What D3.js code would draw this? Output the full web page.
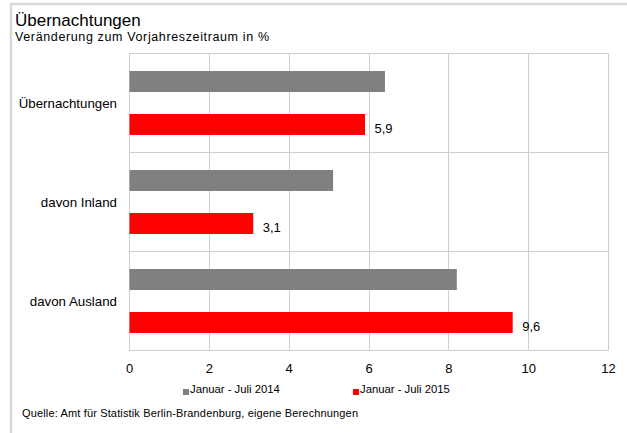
<!DOCTYPE html>
<html>
<head>
<meta charset="utf-8">
<script src="https://cdn.jsdelivr.net/npm/d3@7/dist/d3.min.js"></script>
<style>
  html, body { margin: 0; padding: 0; background: #fff; }
  svg { display: block; font-family: "Liberation Sans", Arial, sans-serif; }
</style>
</head>
<body>
<svg id="chart" width="627" height="433"></svg>
<script>
// Categories and series (change vs. previous year, in %)
const categories = ["Übernachtungen", "davon Inland", "davon Ausland"];
const seriesNames = ["Januar - Juli 2014", "Januar - Juli 2015"];
const values2014 = [6.4, 5.1, 8.2];
const values2015 = [5.9, 3.1, 9.6];
const xTicks = [0, 2, 4, 6, 8, 10, 12];
const seriesColors = ["#808080", "#ff0000"];

const svg = d3.select("#chart");
const W = 627, H = 433;

// outer frame
svg.append("rect")
  .attr("x", 11).attr("y", 4)
  .attr("width", W + 10).attr("height", H + 10)
  .attr("fill", "#fff")
  .attr("stroke", "#d9d9d9").attr("stroke-width", 2.5);

// titles
svg.append("text").attr("x", 15).attr("y", 26)
  .attr("font-size", 17).attr("fill", "#000").text("Übernachtungen");
svg.append("text").attr("x", 15).attr("y", 40.5)
  .attr("font-size", 12.5).attr("fill", "#000")
  .attr("textLength", 254).attr("lengthAdjust", "spacing")
  .text("Veränderung zum Vorjahreszeitraum  in %");

const plot = { left: 129, right: 608, top: 53, bottom: 350 };

const x = d3.scaleLinear().domain([0, 12]).range([plot.left, plot.right]);
const y = d3.scaleBand().domain(categories).range([plot.top, plot.bottom]);
const bw = y.bandwidth();
const ySub = d3.scaleBand().domain([0, 1])
  .range([bw * 0.182, bw * 0.828]).paddingInner(0.512).paddingOuter(0);

const g = svg.append("g");

// vertical gridlines
g.append("g").selectAll("line").data(xTicks).join("line")
  .attr("x1", d => Math.round(x(d)) + 0.5).attr("x2", d => Math.round(x(d)) + 0.5)
  .attr("y1", plot.top).attr("y2", plot.bottom)
  .attr("stroke", "#cfcfcf").attr("stroke-width", 1);

// horizontal category separators and frame
const sepYs = [plot.top].concat(categories.map(c => y(c) + y.bandwidth()));
g.append("g").selectAll("line").data(sepYs).join("line")
  .attr("x1", plot.left).attr("x2", plot.right + 0.5)
  .attr("y1", d => Math.round(d) + 0.5).attr("y2", d => Math.round(d) + 0.5)
  .attr("stroke", "#cfcfcf").attr("stroke-width", 1);

// bars
const rows = categories.map((c, i) => ({ c, v: [values2014[i], values2015[i]] }));
const grp = g.append("g").selectAll("g").data(rows).join("g")
  .attr("transform", d => `translate(0,${y(d.c)})`);

grp.selectAll("rect").data(d => d.v.map((v, k) => ({ v, k }))).join("rect")
  .attr("x", x(0) + 0.5)
  .attr("y", d => ySub(d.k))
  .attr("width", d => x(d.v) - x(0))
  .attr("height", ySub.bandwidth())
  .attr("fill", d => seriesColors[d.k]);

// value labels on 2015 bars
grp.append("text")
  .attr("x", d => x(d.v[1]) + 10)
  .attr("y", ySub(1) + ySub.bandwidth() / 2 + 3.7)
  .attr("dy", "0.35em")
  .attr("font-size", 13).attr("fill", "#000")
  .text(d => d3.format(".1f")(d.v[1]).replace(".", ","));

// category labels
svg.append("g").selectAll("text").data(categories).join("text")
  .attr("x", 117).attr("y", d => y(d) + y.bandwidth() / 2 + 0.5)
  .attr("dy", "0.35em").attr("text-anchor", "end")
  .attr("font-size", 13.3).attr("fill", "#000")
  .text(d => d);

// x axis
const axis = d3.axisBottom(x).tickValues(xTicks).tickSize(0).tickPadding(14)
  .tickFormat(d => String(d));
const ax = svg.append("g").attr("transform", `translate(0,${plot.bottom})`).call(axis);
ax.select(".domain").remove();
ax.selectAll("text").attr("font-size", 13).attr("fill", "#000")
  .attr("font-family", "Liberation Sans, Arial, sans-serif");

// legend
const legendX = [183, 353];
const leg = svg.append("g").selectAll("g").data(seriesNames).join("g")
  .attr("transform", (d, i) => `translate(${legendX[i]},389)`);
leg.append("rect").attr("width", 6).attr("height", 6).attr("y", 0)
  .attr("fill", (d, i) => seriesColors[i]);
leg.append("text").attr("x", 7).attr("y", 4.3)
  .attr("font-size", 11.3).attr("fill", "#000").text(d => d);

// source note
svg.append("text").attr("x", 22).attr("y", 417.3)
  .attr("font-size", 11).attr("fill", "#000")
  .attr("textLength", 336).attr("lengthAdjust", "spacing")
  .text("Quelle: Amt für Statistik Berlin-Brandenburg, eigene Berechnungen");
</script>
</body>
</html>
